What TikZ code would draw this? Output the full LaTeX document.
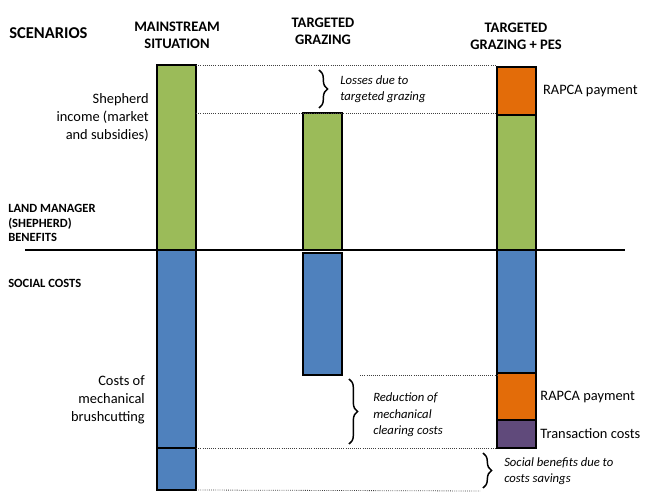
\documentclass[tikz,border=0pt]{standalone}
\usepackage{fontspec}
\setmainfont{Carlito}
\usetikzlibrary{positioning,decorations.pathreplacing}
\definecolor{incgreen}{HTML}{9BBB59}
\definecolor{costblue}{HTML}{4F81BD}
\definecolor{payorange}{HTML}{E36C09}
\definecolor{transpurple}{HTML}{604A7B}
\tikzset{
  bar/.style = {draw=black, line width=1.1pt, minimum width=29.5pt, inner sep=0pt, outer sep=0pt, anchor=north},
  IncBar/.style = {bar, fill=incgreen},
  CostBar/.style = {bar, fill=costblue},
  PayBar/.style = {bar, fill=payorange},
  TransBar/.style = {bar, fill=transpurple},
  barh/.style = {minimum height=#1*0.75pt},
  head/.style = {align=center, inner sep=0pt, font=\fontsize{10.9}{12.6}\selectfont\bfseries},
  side/.style = {align=left, inner sep=0pt, font=\fontsize{9.4}{10.9}\selectfont\bfseries},
  lbl/.style = {inner sep=0pt, font=\fontsize{10.8}{13.5}\selectfont},
  note/.style = {align=left, inner sep=0pt, anchor=west, font=\fontsize{9.5}{12.3}\selectfont\itshape},
  guide/.style = {densely dotted, line width=0.6pt, black!75},
  brace/.style = {decorate, decoration={brace, amplitude=6.5pt}, line width=1.1pt}
}

\begin{document}
\begin{tikzpicture}[x=0.75pt, y=-0.75pt]
  \useasboundingbox (0,0) rectangle (650,502);
  % column headings
  \node [head, anchor=west, font=\fontsize{12.4}{14}\selectfont\bfseries] (scen) at (9,33) {SCENARIOS};
  \node [head] (msHead) at (177,35) {MAINSTREAM\\SITUATION};
  \node [head] (tgHead) at (323,31) {TARGETED\\GRAZING};
  \node [head] (pesHead) at (516,36) {TARGETED\\GRAZING + PES};
  \node [side, anchor=west] (benTxt) at (8,223) {LAND MANAGER\\(SHEPHERD)\\BENEFITS};
  \node [side, anchor=west] (socTxt) at (8,283) {SOCIAL COSTS};

  % mainstream situation
  \node [IncBar, barh=185] (msInc) at (176.5,65) {};
  \node [CostBar, barh=198] (msCost) at (msInc.south) {};
  \node [CostBar, barh=42] (msSave) at (msCost.south) {};
  \node [lbl, align=right, anchor=east] (incTxt) at (149,118) {Shepherd\\income (market\\and subsidies)};
  \node [lbl, align=right, anchor=east] (cutTxt) at (145,400) {Costs of\\mechanical\\brushcutting};

  % targeted grazing
  \node [IncBar, barh=137] (tgInc) at (322.5,113) {};
  \node [CostBar, barh=122] (tgCost) at (322.5,253) {};

  % targeted grazing + PES
  \node [PayBar, barh=48] (pesPay) at (516.5,67) {};
  \node [IncBar, barh=135] (pesInc) at (pesPay.south) {};
  \node [CostBar, barh=123] (pesCost) at (pesInc.south) {};
  \node [PayBar, barh=47] (pesPay2) at (pesCost.south) {};
  \node [TransBar, barh=28] (pesTrans) at (pesPay2.south) {};
  \node [lbl, right=5pt of pesPay] (payTxt) {RAPCA payment};
  \node [lbl, right=3pt of pesPay2] (pay2Txt) {RAPCA payment};
  \node [lbl, right=3pt of pesTrans] (transTxt) {Transaction costs};

  % axis
  \coordinate (axL) at (25,250);
  \coordinate (axR) at (625,250);
  \draw [line width=2.2pt] (axL) -- (axR);

  % guide lines
  \draw [guide] (msInc.north east) -- (msInc.north east -| pesPay.west);
  \draw [guide] (msInc.east |- tgInc.north) -- (pesPay.west |- tgInc.north);
  \draw [guide] ([xshift=13.5pt]tgCost.south east) -- (tgCost.south -| pesCost.west);
  \draw [guide] (msCost.south east) -- (msCost.south -| pesTrans.west);
  \coordinate (saveEnd) at (480,491);
  \draw [guide] (msSave.south east) -- (saveEnd);

  % braces and notes
  \draw [brace] (319,70) -- (319,108);
  \node [note] (lossTxt) at (340,89) {Losses due to\\targeted grazing};
  \draw [brace] (349,379) -- (349,444);
  \node [note] (redTxt) at (373,415) {Reduction of\\mechanical\\clearing costs};
  \draw [brace] (483,453) -- (483,488);
  \node [note] (socBenTxt) at (504,471) {Social benefits due to\\costs savings};
\end{tikzpicture}
\end{document}
